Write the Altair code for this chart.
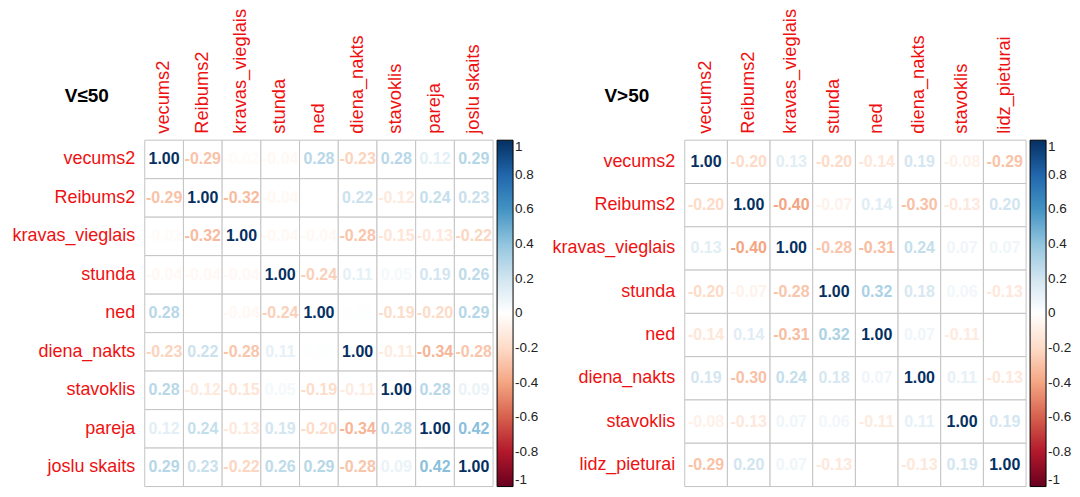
import altair as alt
import pandas as pd

# ---- data -------------------------------------------------------------
left_title = "V≤50"
left_vars = ["vecums2", "Reibums2", "kravas_vieglais", "stunda", "ned",
             "diena_nakts", "stavoklis", "pareja", "joslu skaits"]
left_corr = [
    [1.00, -0.29, -0.02, -0.04, 0.28, -0.23, 0.28, 0.12, 0.29],
    [-0.29, 1.00, -0.32, -0.04, 0.00, 0.22, -0.12, 0.24, 0.23],
    [-0.02, -0.32, 1.00, -0.04, -0.04, -0.28, -0.15, -0.13, -0.22],
    [-0.04, -0.04, -0.04, 1.00, -0.24, 0.11, 0.05, 0.19, 0.26],
    [0.28, 0.00, -0.04, -0.24, 1.00, 0.01, -0.19, -0.20, 0.29],
    [-0.23, 0.22, -0.28, 0.11, 0.01, 1.00, -0.11, -0.34, -0.28],
    [0.28, -0.12, -0.15, 0.05, -0.19, -0.11, 1.00, 0.28, 0.09],
    [0.12, 0.24, -0.13, 0.19, -0.20, -0.34, 0.28, 1.00, 0.42],
    [0.29, 0.23, -0.22, 0.26, 0.29, -0.28, 0.09, 0.42, 1.00],
]

right_title = "V>50"
right_vars = ["vecums2", "Reibums2", "kravas_vieglais", "stunda", "ned",
              "diena_nakts", "stavoklis", "lidz_pieturai"]
right_corr = [
    [1.00, -0.20, 0.13, -0.20, -0.14, 0.19, -0.08, -0.29],
    [-0.20, 1.00, -0.40, -0.07, 0.14, -0.30, -0.13, 0.20],
    [0.13, -0.40, 1.00, -0.28, -0.31, 0.24, 0.07, 0.07],
    [-0.20, -0.07, -0.28, 1.00, 0.32, 0.18, 0.06, -0.13],
    [-0.14, 0.14, -0.31, 0.32, 1.00, 0.07, -0.11, 0.00],
    [0.19, -0.30, 0.24, 0.18, 0.07, 1.00, 0.11, -0.13],
    [-0.08, -0.13, 0.07, 0.06, -0.11, 0.11, 1.00, 0.19],
    [-0.29, 0.20, 0.07, -0.13, 0.00, -0.13, 0.19, 1.00],
]

color_stops = [-1, -0.8, -0.6, -0.4, -0.2, 0, 0.2, 0.4, 0.6, 0.8, 1]
color_range = ["#67001F", "#B2182B", "#D6604D", "#F4A582", "#FDDBC7", "#FFFFFF",
               "#D1E5F0", "#92C5DE", "#4393C3", "#2166AC", "#053061"]
legend_values = [1, 0.8, 0.6, 0.4, 0.2, 0, -0.2, -0.4, -0.6, -0.8, -1]

FONT = "Liberation Sans"


def panel(vars_, corr, title, w, h):
    rows = []
    for i, rv in enumerate(vars_):
        for j, cv in enumerate(vars_):
            v = corr[i][j]
            rows.append({"row": rv, "col": cv, "value": v, "label": f"{v:.2f}"})
    df = pd.DataFrame(rows)
    base = alt.Chart(df)
    x = alt.X("col:N", sort=vars_, title=None,
              scale=alt.Scale(paddingInner=0, paddingOuter=0),
              axis=alt.Axis(orient="top", labelAngle=270, labelAlign="left",
                            labelBaseline="middle", labelPadding=7,
                            labelFontSize=18.3))
    y = alt.Y("row:N", sort=vars_, title=None,
              scale=alt.Scale(paddingInner=0, paddingOuter=0),
              axis=alt.Axis(labelPadding=10))
    grid = base.mark_rect(fill="white", stroke="#c4c4c4", strokeWidth=1).encode(x=x, y=y)
    nums = base.mark_text(font=FONT, fontSize=16, fontWeight="bold").encode(
        x=x, y=y, text="label:N",
        color=alt.Color(
            "value:Q",
            scale=alt.Scale(domain=color_stops, range=color_range, interpolate="rgb"),
            legend=alt.Legend(
                title=None, orient="right", offset=4, padding=0,
                direction="vertical", type="gradient",
                gradientLength=h, gradientThickness=16,
                gradientStrokeColor="black", gradientStrokeWidth=1,
                values=legend_values, labelExpr="datum.value + ''",
                labelFont=FONT, labelFontSize=13.5, labelColor="#222222",
                labelOffset=2, labelOverlap=False,
            ),
        ),
    )
    ttl = alt.Chart(pd.DataFrame({"t": [title]})).mark_text(
        font=FONT, fontSize=19, fontWeight="bold", color="black",
        baseline="alphabetic", align="center",
    ).encode(text="t:N", x=alt.value(-58), y=alt.value(-38))
    return alt.layer(grid, nums, ttl).properties(width=w, height=h)


left = panel(left_vars, left_corr, left_title, 349, 347)
right = panel(right_vars, right_corr, right_title, 342, 347)

chart = (
    alt.hconcat(left, right, spacing=12)
    .resolve_scale(color="independent", x="independent", y="independent")
    .resolve_legend(color="independent")
    .properties(padding={"left": 3, "top": 0, "right": 0, "bottom": 0})
    .configure_view(stroke=None)
    .configure_axis(domain=False, ticks=False, grid=False, labelFont=FONT,
                    labelFontSize=18, labelColor="#ee1111", labelLimit=300)
)

chart.save("out.html", embed_options={"renderer": "svg", "actions": False})
